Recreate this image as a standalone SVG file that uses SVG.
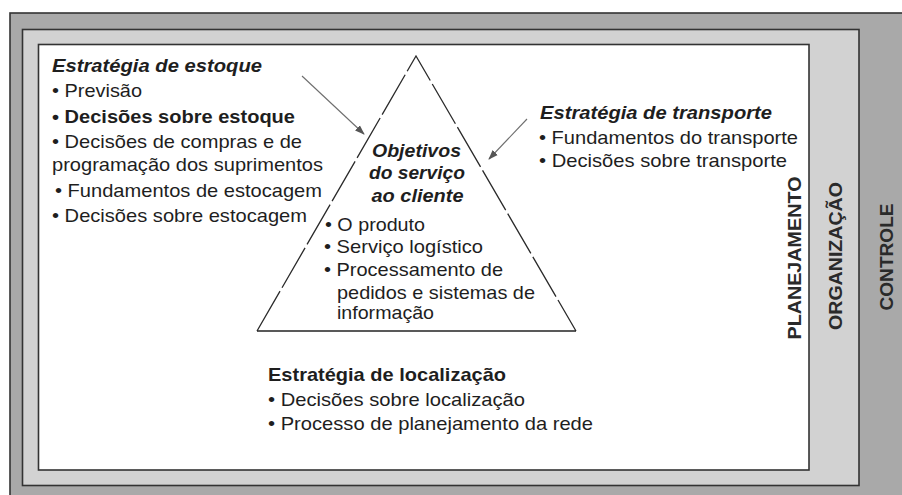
<svg xmlns="http://www.w3.org/2000/svg" width="902" height="495" viewBox="0 0 902 495">
<style>
text{font-family:"Liberation Sans",Arial,Helvetica,sans-serif;fill:#1e1e1e;font-size:19px}
.b{font-weight:bold}
.bi{font-weight:bold;font-style:italic}
.v{font-weight:bold;fill:#2a2a2a}
.frame{stroke:#333;stroke-width:1.6}
.side{fill:none;stroke:#2a2a2a;stroke-width:1.3;stroke-dasharray:46 4}
.arr{stroke:#6e6e6e;stroke-width:1.1;fill:none;marker-end:url(#ah)}
</style>
<defs>
<marker id="ah" viewBox="0 0 10 10" refX="9" refY="5" markerWidth="10" markerHeight="10" markerUnits="userSpaceOnUse" orient="auto">
<path d="M0,1.5 L10,5 L0,8.5 Z" fill="#555"/>
</marker>
</defs>
<rect width="902" height="495" fill="#ffffff"/>
<g id="controle">
<rect class="frame" x="10" y="13" width="900" height="490" fill="#a9a9a9"/>
<text class="v" font-size="17" transform="translate(893,257) rotate(-90)" text-anchor="middle" textLength="107" lengthAdjust="spacingAndGlyphs">CONTROLE</text>
</g>
<g id="organizacao">
<rect class="frame" x="22.5" y="29.5" width="836.5" height="456" fill="#d2d2d2"/>
<text class="v" font-size="17" transform="translate(842,256) rotate(-90)" text-anchor="middle" textLength="148" lengthAdjust="spacingAndGlyphs">ORGANIZAÇÃO</text>
</g>
<g id="planejamento">
<rect class="frame" x="38.5" y="44.5" width="770.5" height="425.5" fill="#ffffff"/>
<text class="v" font-size="20" fill="#111" transform="translate(800.5,258) rotate(-90)" text-anchor="middle" textLength="163" lengthAdjust="spacingAndGlyphs">PLANEJAMENTO</text>
</g>
<g id="objetivos">
<path class="side" d="M257,331 L416,56 L576,331"/>
<line x1="257" y1="331" x2="576" y2="331" stroke="#222" stroke-width="1.5"/>
<text class="bi" x="416.5" y="157" text-anchor="middle" textLength="89" lengthAdjust="spacingAndGlyphs">Objetivos</text>
<text class="bi" x="417" y="179" text-anchor="middle" textLength="96" lengthAdjust="spacingAndGlyphs">do serviço</text>
<text class="bi" x="417.5" y="202" text-anchor="middle" textLength="92" lengthAdjust="spacingAndGlyphs">ao cliente</text>
<text x="325" y="231" textLength="100" lengthAdjust="spacingAndGlyphs">• O produto</text>
<text x="324" y="253" textLength="159" lengthAdjust="spacingAndGlyphs">• Serviço logístico</text>
<text x="324" y="276" textLength="179" lengthAdjust="spacingAndGlyphs">• Processamento de</text>
<text x="337" y="299" textLength="198" lengthAdjust="spacingAndGlyphs">pedidos e sistemas de</text>
<text x="337" y="319" textLength="97" lengthAdjust="spacingAndGlyphs">informação</text>
</g>
<g id="estoque">
<text class="bi" x="52" y="72" textLength="210" lengthAdjust="spacingAndGlyphs">Estratégia de estoque</text>
<text x="52" y="97" textLength="90" lengthAdjust="spacingAndGlyphs">• Previsão</text>
<text class="b" x="52" y="123" textLength="243" lengthAdjust="spacingAndGlyphs">• Decisões sobre estoque</text>
<text x="52" y="148" textLength="250" lengthAdjust="spacingAndGlyphs">• Decisões de compras e de</text>
<text x="52" y="171" textLength="271" lengthAdjust="spacingAndGlyphs">programação dos suprimentos</text>
<text x="55" y="197" textLength="267" lengthAdjust="spacingAndGlyphs">• Fundamentos de estocagem</text>
<text x="52" y="222" textLength="255" lengthAdjust="spacingAndGlyphs">• Decisões sobre estocagem</text>
</g>
<g id="transporte">
<text class="bi" x="540" y="119" textLength="232" lengthAdjust="spacingAndGlyphs">Estratégia de transporte</text>
<text x="539" y="144" textLength="259" lengthAdjust="spacingAndGlyphs">• Fundamentos do transporte</text>
<text x="539" y="167" textLength="248" lengthAdjust="spacingAndGlyphs">• Decisões sobre transporte</text>
</g>
<g id="localizacao">
<text class="b" x="268" y="381" textLength="238" lengthAdjust="spacingAndGlyphs">Estratégia de localização</text>
<text x="268" y="406" textLength="257" lengthAdjust="spacingAndGlyphs">• Decisões sobre localização</text>
<text x="268" y="430" textLength="325" lengthAdjust="spacingAndGlyphs">• Processo de planejamento da rede</text>
</g>
<g id="connectors">
<line class="arr" x1="302" y1="76" x2="364" y2="134"/>
<line class="arr" x1="527" y1="119" x2="489" y2="159"/>
</g>
</svg>
